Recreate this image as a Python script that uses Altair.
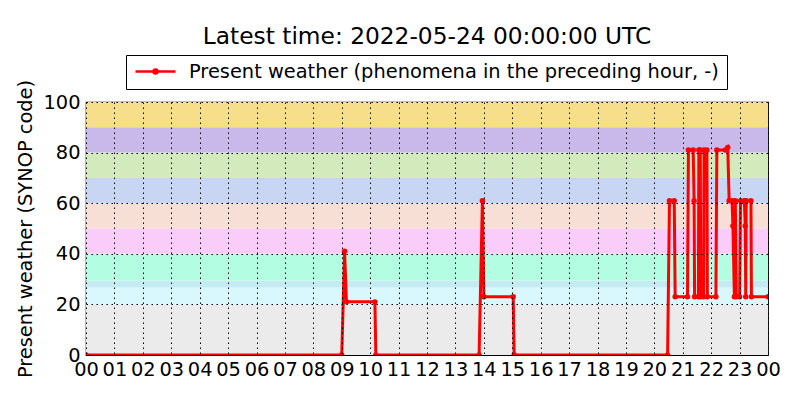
import altair as alt
import pandas as pd

# present weather observations (SYNOP ww code), 2022-05-23 UTC
times = ["2022-05-23T00:00:00Z", "2022-05-23T09:00:00Z", "2022-05-23T09:06:00Z", "2022-05-23T09:10:00Z",
         "2022-05-23T10:10:00Z", "2022-05-23T10:12:00Z", "2022-05-23T13:50:00Z", "2022-05-23T13:57:00Z",
         "2022-05-23T14:00:00Z", "2022-05-23T15:02:00Z", "2022-05-23T15:04:00Z", "2022-05-23T20:28:00Z",
         "2022-05-23T20:32:00Z", "2022-05-23T20:42:00Z", "2022-05-23T20:44:00Z", "2022-05-23T21:10:00Z",
         "2022-05-23T21:12:00Z", "2022-05-23T21:22:00Z", "2022-05-23T21:24:00Z", "2022-05-23T21:25:00Z",
         "2022-05-23T21:33:00Z", "2022-05-23T21:34:00Z", "2022-05-23T21:37:00Z", "2022-05-23T21:38:00Z",
         "2022-05-23T21:44:00Z", "2022-05-23T21:45:00Z", "2022-05-23T21:51:00Z", "2022-05-23T21:52:00Z",
         "2022-05-23T22:10:00Z", "2022-05-23T22:12:00Z", "2022-05-23T22:30:00Z", "2022-05-23T22:35:00Z",
         "2022-05-23T22:38:00Z", "2022-05-23T22:44:00Z", "2022-05-23T22:46:00Z", "2022-05-23T22:49:00Z",
         "2022-05-23T22:51:00Z", "2022-05-23T22:53:00Z", "2022-05-23T23:00:00Z", "2022-05-23T23:02:00Z",
         "2022-05-23T23:10:00Z", "2022-05-23T23:12:00Z", "2022-05-23T23:13:00Z", "2022-05-23T23:14:00Z",
         "2022-05-23T23:24:00Z", "2022-05-23T23:25:00Z", "2022-05-24T00:00:00Z"]
ww = [0, 0, 41, 21,
      21, 0, 0, 61,
      23, 23, 0, 0,
      61, 61, 23, 23,
      81, 81, 61, 23,
      23, 81, 81, 23,
      23, 81, 81, 23,
      23, 81, 81, 82,
      61, 61, 51, 23,
      61, 23, 23, 61,
      61, 51, 23, 61,
      61, 23, 23]

# background bands of ww code groups
band_names = ["0-19", "20-26", "27-29", "30-39", "40-49", "50-59", "60-69", "70-79", "80-89", "90-99"]
band_lo = [0, 20, 26.7, 29.4, 40, 50, 60, 70, 80, 90]
band_hi = [20, 26.7, 29.4, 40, 50, 60, 70, 80, 90, 100]
band_colors = ["#ebebeb", "#d9f8fd", "#c4ebf1", "#b3fde3", "#f9ccf9",
               "#f7dfd6", "#c8d6f3", "#d3eabd", "#c9b8ea", "#f7de8a"]

series_name = "Present weather (phenomena in the preceding hour, -)"
t0 = "2022-05-23T00:00:00Z"
t1 = "2022-05-24T00:00:00Z"

obs = pd.DataFrame({"time": times, "ww": ww, "series": series_name})
bands = pd.DataFrame({"band": band_names, "lo": band_lo, "hi": band_hi})

hour_ticks = [alt.DateTime(year=2022, month=5, date=23, hours=h, utc=True) for h in range(24)]
hour_ticks.append(alt.DateTime(year=2022, month=5, date=24, hours=0, utc=True))

x_scale = alt.Scale(type="utc", domain=[t0, t1], nice=False)
y_scale = alt.Scale(domain=[0, 100], nice=False)

FS = 19.4

x_axis = alt.Axis(values=hour_ticks, labelExpr="utcFormat(datum.value, '%H')", title=None, grid=True,
                  gridColor="black", gridDash=[1.5, 3.5], gridWidth=1, ticks=False, domain=False,
                  labelFontSize=FS, labelColor="black", labelPadding=5, zindex=1,
                  labelFlush=False, labelOverlap=False, labelBound=False)
y_axis = alt.Axis(values=[0, 20, 40, 60, 80, 100], title="Present weather (SYNOP code)", grid=True,
                  gridColor="black", gridDash=[1.5, 3.5], gridWidth=1, ticks=False, domain=False,
                  labelFontSize=FS, labelColor="black", labelPadding=6, titleFontSize=FS,
                  titleFontWeight="normal", titleColor="black", titlePadding=7, zindex=1)

band_layer = alt.Chart(bands).mark_rect(opacity=1).encode(
    x=alt.value(0),
    x2=alt.value(682),
    y=alt.Y("lo:Q", scale=y_scale, axis=y_axis),
    y2="hi:Q",
    fill=alt.Fill("band:N", scale=alt.Scale(domain=band_names, range=band_colors), legend=None),
)

line_layer = alt.Chart(obs).mark_line(
    strokeWidth=3, clip=True,
    point=alt.OverlayMarkDef(filled=True, size=30, color="red"),
).encode(
    x=alt.X("time:T", scale=x_scale, axis=x_axis),
    y=alt.Y("ww:Q", scale=y_scale),
    color=alt.Color("series:N", scale=alt.Scale(domain=[series_name], range=["red"]),
                    legend=alt.Legend(orient="none", legendX=40, legendY=-47, title=None,
                                      strokeColor="black", fillColor="white", padding=8,
                                      cornerRadius=0, clipHeight=17,
                                      symbolType="M-1,0H1M-0.1,0A0.1,0.1 0 1,0 0.1,0A0.1,0.1 0 1,0 -0.1,0",
                                      symbolSize=1600, symbolStrokeWidth=2.5, symbolFillColor="red",
                                      symbolStrokeColor="red", labelFontSize=FS, labelColor="black",
                                      labelOffset=12, labelLimit=0)),
)

chart = alt.layer(band_layer, line_layer).properties(
    width=682,
    height=253,
    title=alt.TitleParams("Latest time: 2022-05-24 00:00:00 UTC", fontSize=23.3, fontWeight="normal",
                          color="black", anchor="middle", offset=5),
    autosize=alt.AutoSizeParams(type="none"),
    padding={"left": 78, "top": 94, "right": 24, "bottom": 36},
).configure(
    font="DejaVu Sans",
).configure_view(
    stroke="black", strokeWidth=1.2,
)

chart.save("out.html", embed_options={"renderer": "svg", "actions": False})
